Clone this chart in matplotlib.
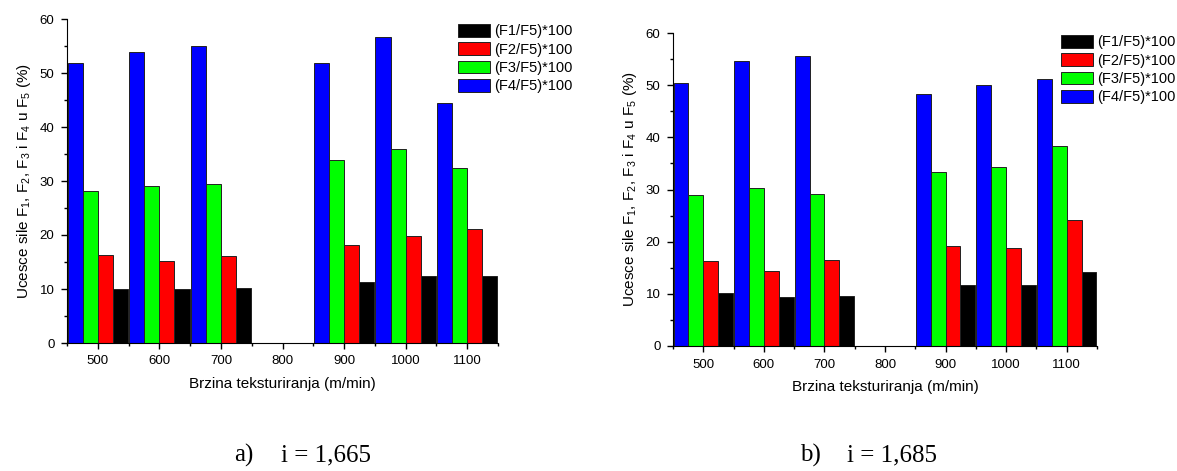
import numpy as np
import matplotlib
matplotlib.use("Agg")
import matplotlib.pyplot as plt
from matplotlib.ticker import MultipleLocator, FixedLocator

plt.rcParams["font.family"] = ["Liberation Sans", "DejaVu Sans"]
plt.rcParams["mathtext.default"] = "regular"

speeds = [500, 600, 700, 800, 900, 1000, 1100]
series = ["(F1/F5)*100", "(F2/F5)*100", "(F3/F5)*100", "(F4/F5)*100"]
colors = ["#000000", "#ff0000", "#00ff00", "#0000ff"]

# a) i = 1,665
a_f1 = [10.0, 10.0, 10.2, 0, 11.3, 12.5, 12.5]
a_f2 = [16.3, 15.2, 16.2, 0, 18.2, 19.9, 21.1]
a_f3 = [28.2, 29.1, 29.5, 0, 33.9, 35.9, 32.5]
a_f4 = [51.8, 53.9, 55.0, 0, 51.9, 56.6, 44.5]

# b) i = 1,685
b_f1 = [10.2, 9.4, 9.6, 0, 11.6, 11.6, 14.2]
b_f2 = [16.2, 14.3, 16.4, 0, 19.1, 18.8, 24.2]
b_f3 = [28.9, 30.3, 29.2, 0, 33.3, 34.4, 38.4]
b_f4 = [50.4, 54.6, 55.6, 0, 48.3, 50.1, 51.1]

cap_tags = ["a)", "b)"]
cap_vals = ["i = 1,665", "i = 1,685"]
ylabel = r"Ucesce sile F$_1$, F$_2$, F$_3$ i F$_4$ u F$_5$ (%)"
xlabel = "Brzina teksturiranja (m/min)"

W, H = 1177, 471
fig = plt.figure(figsize=(W / 100, H / 100), dpi=100)


def px_axes(x0, y0, x1, y1):
    # pixel box (top-left origin) -> figure axes
    return fig.add_axes([x0 / W, 1 - y1 / H, (x1 - x0) / W, (y1 - y0) / H])


def draw(ax, data, legend_px):
    x = np.array(speeds, dtype=float)
    bw = 24.5
    # Origin order: F4 leftmost ... F1 rightmost
    order = [3, 2, 1, 0]
    for k, s in enumerate(order):
        ax.bar(x + (k - 1.5) * bw, data[s], width=bw, color=colors[s],
               edgecolor="#222222", linewidth=0.7, label=series[s])
    ax.set_xlim(450, 1150)
    ax.set_ylim(0, 60)
    ax.set_xticks(speeds)
    ax.xaxis.set_minor_locator(FixedLocator(np.arange(450, 1151, 100)))
    ax.yaxis.set_major_locator(MultipleLocator(10))
    ax.yaxis.set_minor_locator(MultipleLocator(5))
    for side in ["top", "right"]:
        ax.spines[side].set_visible(False)
    ax.tick_params(which="major", direction="out", length=4, width=1,
                   labelsize=9.5, pad=5)
    ax.tick_params(which="minor", direction="out", length=2.5, width=1)
    ax.set_xlabel(xlabel, fontsize=11, labelpad=7)
    ax.set_ylabel(ylabel, fontsize=11, labelpad=5)

    handles, labels = ax.get_legend_handles_labels()
    handles, labels = handles[::-1], labels[::-1]
    lx, ly = legend_px
    fig.legend(handles, labels, loc="upper left",
               bbox_to_anchor=(lx / W, 1 - ly / H), frameon=False,
               fontsize=10.5, handlelength=2.2, handleheight=0.95,
               handletextpad=0.3, labelspacing=0.28, borderpad=0,
               borderaxespad=0)


ax1 = px_axes(67, 19, 498, 343)
draw(ax1, [a_f1, a_f2, a_f3, a_f4], (458, 24))
ax2 = px_axes(673, 33, 1097, 346)
draw(ax2, [b_f1, b_f2, b_f3, b_f4], (1061, 35))

serif = ["Liberation Serif", "DejaVu Serif"]
for tag, val, x0 in zip(cap_tags, cap_vals, [234, 800]):
    fig.text(x0 / W, 1 - 455 / H, tag, family=serif, fontsize=18,
             ha="left", va="center")
    fig.text((x0 + 47) / W, 1 - 455 / H, val, family=serif, fontsize=18,
             ha="left", va="center")

fig.savefig("out.png", dpi=100)
